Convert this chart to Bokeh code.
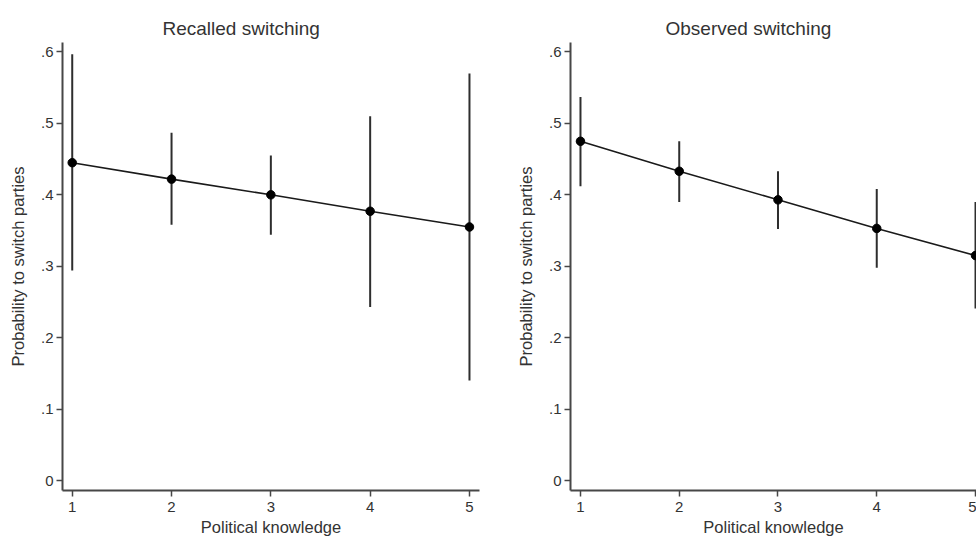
from bokeh.plotting import figure
from bokeh.layouts import row
from bokeh.models import FixedTicker, Range1d
from bokeh.embed import file_html
from bokeh.resources import INLINE

# ---- data ----
knowledge = [1, 2, 3, 4, 5]

recalled_prob = [0.445, 0.422, 0.400, 0.377, 0.355]
recalled_lo = [0.294, 0.358, 0.344, 0.243, 0.140]
recalled_hi = [0.597, 0.487, 0.455, 0.510, 0.570]

observed_prob = [0.475, 0.433, 0.393, 0.353, 0.315]
observed_lo = [0.412, 0.390, 0.352, 0.298, 0.241]
observed_hi = [0.537, 0.475, 0.433, 0.408, 0.390]

y_ticks = [0, 0.1, 0.2, 0.3, 0.4, 0.5, 0.6]
y_tick_labels = ["0", ".1", ".2", ".3", ".4", ".5", ".6"]
x_ticks = [1, 2, 3, 4, 5]

titles = ["Recalled switching", "Observed switching"]
x_title = "Political knowledge"
y_title = "Probability to switch parties"

FONT = "Liberation Sans"
TXT = "#333333"
AX = "#474747"


def panel(title, prob, lo, hi, width, x_start, x_end, min_left, min_right, title_offset):
    p = figure(width=width, height=538,
               x_range=Range1d(x_start, x_end), y_range=Range1d(-0.014, 0.6133),
               output_backend="svg", toolbar_location=None,
               min_border_left=min_left, min_border_right=min_right,
               min_border_top=42, min_border_bottom=47)
    p.outline_line_color = None
    p.xgrid.visible = False
    p.ygrid.visible = False
    p.background_fill_color = "white"
    p.border_fill_color = "white"

    p.title.text = title
    p.title.align = "left"
    p.title.offset = title_offset
    p.title.text_font = FONT
    p.title.text_font_size = "19px"
    p.title.text_font_style = "normal"
    p.title.text_color = TXT
    p.title.standoff = 8

    for ax in (p.xaxis[0], p.yaxis[0]):
        ax.axis_line_color = AX
        ax.axis_line_width = 2
        ax.major_tick_line_color = AX
        ax.major_tick_line_width = 1.5
        ax.major_tick_out = 6
        ax.major_tick_in = 0
        ax.minor_tick_line_color = None
        ax.major_label_text_font = FONT
        ax.major_label_text_font_size = "15px"
        ax.major_label_text_color = TXT
        ax.axis_label_text_font = FONT
        ax.axis_label_text_font_size = "16.5px"
        ax.axis_label_text_font_style = "normal"
        ax.axis_label_text_color = TXT

    p.xaxis.ticker = FixedTicker(ticks=x_ticks)
    p.xaxis.axis_label = x_title
    p.xaxis.major_label_standoff = 5
    p.xaxis.axis_label_standoff = 3

    p.yaxis.ticker = FixedTicker(ticks=y_ticks)
    p.yaxis.major_label_overrides = {t: l for t, l in zip(y_ticks, y_tick_labels)}
    p.yaxis.axis_label = y_title
    p.yaxis.major_label_standoff = 3
    p.yaxis.axis_label_standoff = 11

    p.segment(x0=knowledge, y0=lo, x1=knowledge, y1=hi, line_width=2, line_color="#2e2e2e")
    p.line(knowledge, prob, line_width=1.6, line_color="#1a1a1a")
    p.scatter(knowledge, prob, size=8.5, fill_color="black", line_color="black")
    return p


left = panel(titles[0], recalled_prob, recalled_lo, recalled_hi,
             width=508, x_start=0.902, x_end=5.101, min_left=62, min_right=29, title_offset=100)
right = panel(titles[1], observed_prob, observed_lo, observed_hi,
              width=468, x_start=0.899, x_end=5.01, min_left=62, min_right=0, title_offset=95)

layout = row(left, right, spacing=0)
open("out.html", "w").write(file_html(layout, INLINE))
